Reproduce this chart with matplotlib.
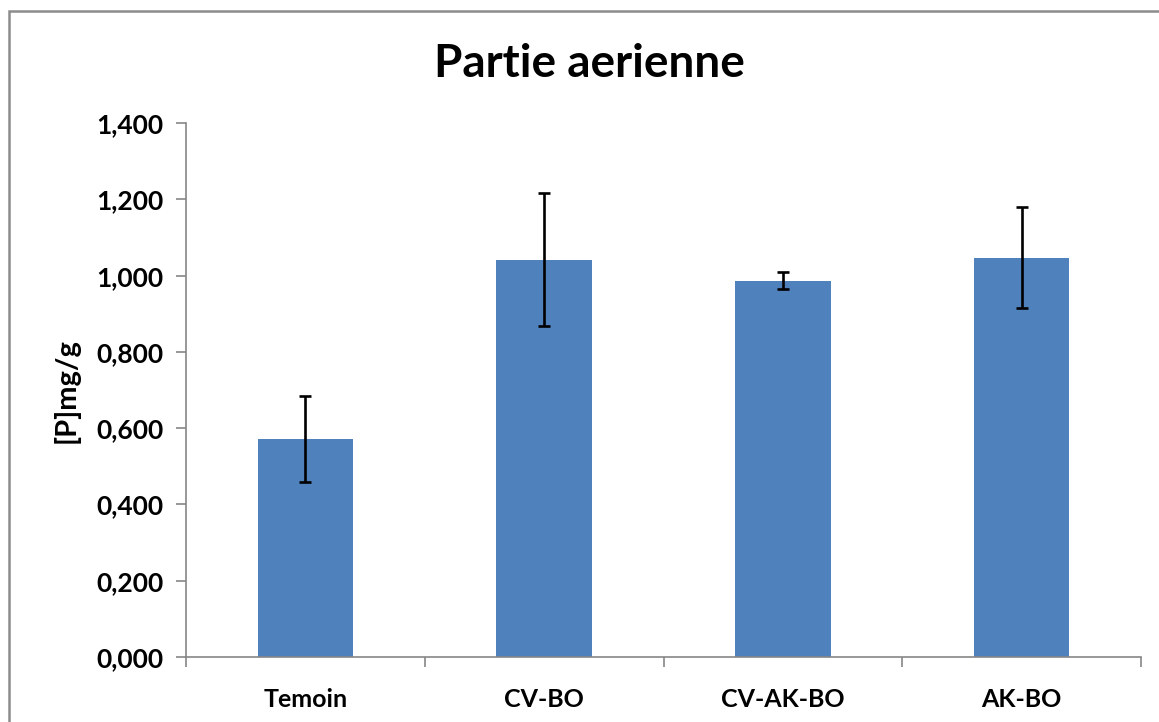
import numpy as np
import matplotlib
matplotlib.use('Agg')
import matplotlib.pyplot as plt
from matplotlib.patches import Rectangle
from matplotlib.ticker import FuncFormatter, FixedLocator

categories = ['Temoin', 'CV-BO', 'CV-AK-BO', 'AK-BO']
values = [0.572, 1.042, 0.987, 1.047]
errors = [0.112, 0.175, 0.023, 0.133]

plt.rcParams['font.family'] = ['Lato', 'DejaVu Sans']
plt.rcParams['font.weight'] = 'bold'

fig = plt.figure(figsize=(11.59, 7.22), dpi=100)
ax = fig.add_axes([0.1605, 0.090, 0.824, 0.7394])

# outer chart frame
fig.patches.append(Rectangle((9 / 1159, -0.05), 1.2, 1 - 11 / 722 + 0.05,
                             transform=fig.transFigure, fill=False,
                             edgecolor='#8c8c8c', linewidth=1.8))

x = np.arange(len(categories))
ax.bar(x, values, width=0.4, color='#4f81bd', zorder=2)
ax.errorbar(x, values, yerr=errors, fmt='none', ecolor='black',
            elinewidth=1.9, capsize=4.5, capthick=1.9, zorder=3)

ax.set_xlim(-0.5, len(categories) - 0.5)
ax.set_ylim(0, 1.4)
ax.set_yticks(np.arange(0, 1.41, 0.2))
ax.yaxis.set_major_formatter(FuncFormatter(lambda v, p: f'{v:.3f}'.replace('.', ',')))

ax.set_xticks(x)
ax.set_xticklabels(categories)
ax.xaxis.set_minor_locator(FixedLocator(np.arange(-0.5, len(categories), 1.0)))
ax.tick_params(axis='x', which='major', length=0, pad=22, labelsize=18)
ax.tick_params(axis='x', which='minor', length=7, width=1.2, color='#868686', direction='out')
ax.tick_params(axis='y', length=7, width=1.2, color='#868686', labelsize=19, pad=9)
for lab in ax.get_xticklabels() + ax.get_yticklabels():
    lab.set_fontweight('bold')

for s in ['top', 'right']:
    ax.spines[s].set_visible(False)
for s in ['left', 'bottom']:
    ax.spines[s].set_color('#868686')
    ax.spines[s].set_linewidth(1.2)

ax.set_ylabel('[P]mg/g', fontsize=21, fontweight='bold', labelpad=12)
fig.text(0.509, 0.912, 'Partie aerienne', ha='center', va='center',
         fontsize=33, fontweight='bold')

fig.savefig('out.png', dpi=100)
